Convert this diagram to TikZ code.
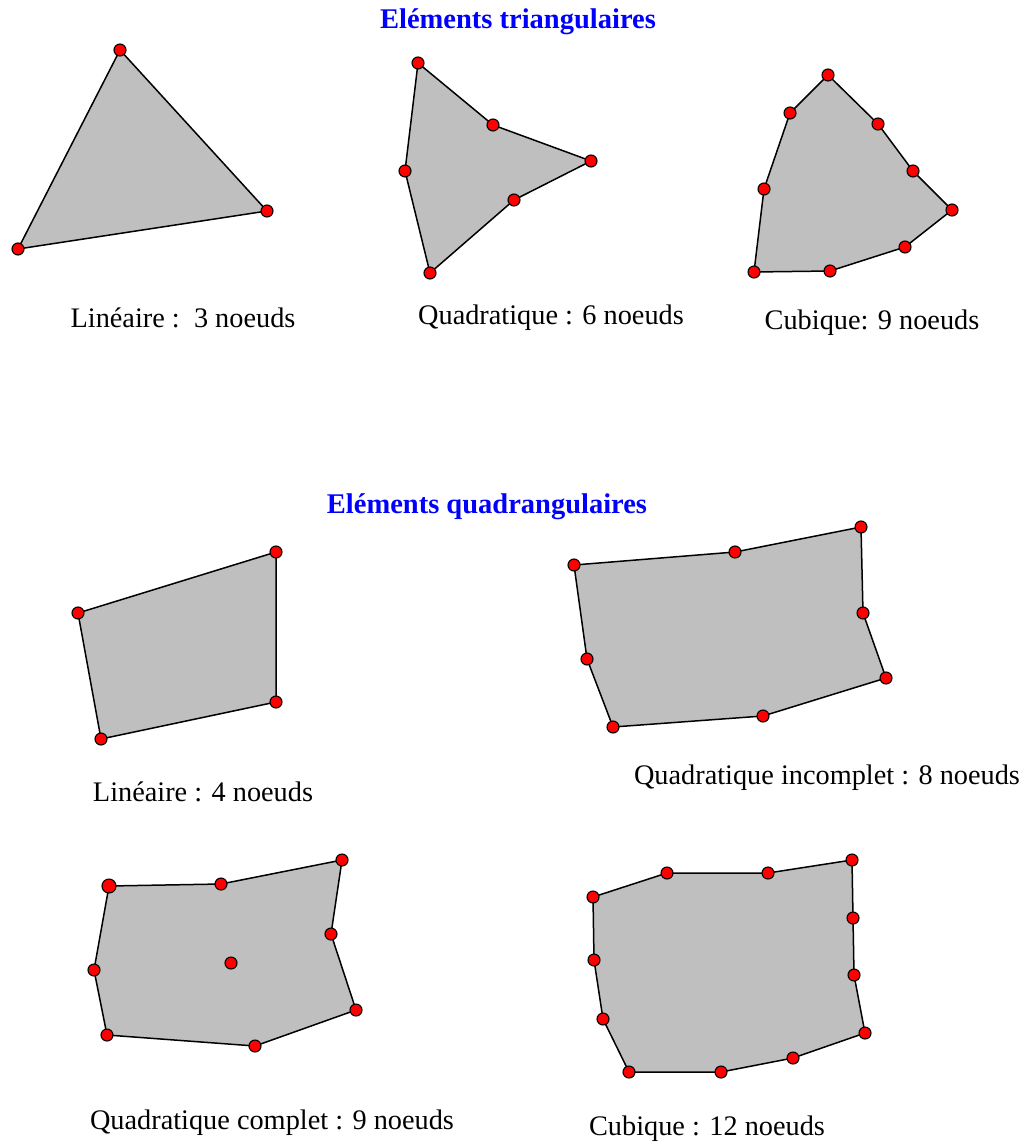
\documentclass[tikz,border=0pt]{standalone}
\usepackage{fontspec}
\setmainfont{Liberation Serif}
\usetikzlibrary{positioning}
\tikzset{
  elemfill/.style={draw,fill=black!25,line width=1.5pt,line join=round},
  ptnode/.style={circle,draw,fill=red,line width=1.1pt,minimum size=12pt,inner sep=0pt},
  titletext/.style={font=\fontsize{28.5}{32}\selectfont\bfseries,text=blue},
  captext/.style={font=\fontsize{28.3}{32}\selectfont},
  every picture/.style={line cap=round,line join=round}
}
\begin{document}
\begin{tikzpicture}[x=1pt,y=-1pt]
  \useasboundingbox (0,0) rectangle (1023,1142);
  % titres
  \node[titletext] (ttri) at (518,22) {Eléments triangulaires};
  \node[titletext] (tquad) at (487,507) {Eléments quadrangulaires};

  % triangle lineaire
  \coordinate (a1) at (120,50);
  \coordinate (a2) at (267,211);
  \coordinate (a3) at (18,249);
  \filldraw[elemfill] (a1) -- (a2) -- (a3) -- cycle;
  \node[captext] (la) at (183,318) {Linéaire :\ \ 3 noeuds};

  % triangle quadratique
  \coordinate (b1) at (418,63);
  \coordinate (b2) at (493,125);
  \coordinate (b3) at (591,161);
  \coordinate (b4) at (514,200);
  \coordinate (b5) at (430,273);
  \coordinate (b6) at (405,171);
  \filldraw[elemfill] (b1) -- (b2) -- (b3) -- (b4) -- (b5) -- (b6) -- cycle;
  \node[captext] (lb) at (551,318) {Quadratique : 6 noeuds};

  % triangle cubique
  \coordinate (c1) at (828,75);
  \coordinate (c2) at (878,124);
  \coordinate (c3) at (913,171);
  \coordinate (c4) at (952,210);
  \coordinate (c5) at (905,247);
  \coordinate (c6) at (830,271);
  \coordinate (c7) at (754,272);
  \coordinate (c8) at (764,189);
  \coordinate (c9) at (790,113);
  \filldraw[elemfill] (c1) -- (c2) -- (c3) -- (c4) -- (c5) -- (c6) -- (c7) -- (c8) -- (c9) -- cycle;
  \node[captext] (lc) at (872,323) {Cubique: 9 noeuds};

  % quadrangle lineaire
  \coordinate (d1) at (78,613);
  \coordinate (d2) at (276,552);
  \coordinate (d3) at (276,702);
  \coordinate (d4) at (101,739);
  \filldraw[elemfill] (d1) -- (d2) -- (d3) -- (d4) -- cycle;
  \node[captext] (ld) at (203,792) {Linéaire : 4 noeuds};

  % quadrangle quadratique incomplet
  \coordinate (e1) at (574,565);
  \coordinate (e2) at (735,552);
  \coordinate (e3) at (861,527);
  \coordinate (e4) at (863,613);
  \coordinate (e5) at (886,678);
  \coordinate (e6) at (763,716);
  \coordinate (e7) at (613,727);
  \coordinate (e8) at (587,659);
  \filldraw[elemfill] (e1) -- (e2) -- (e3) -- (e4) -- (e5) -- (e6) -- (e7) -- (e8) -- cycle;
  \node[captext] (le) at (827,778) {Quadratique incomplet : 8 noeuds};

  % quadrangle quadratique complet
  \coordinate (f1) at (109,886);
  \coordinate (f2) at (221,884);
  \coordinate (f3) at (342,860);
  \coordinate (f4) at (331,934);
  \coordinate (f5) at (356,1010);
  \coordinate (f6) at (255,1046);
  \coordinate (f7) at (107,1035);
  \coordinate (f8) at (94,970);
  \coordinate (f9) at (231,963);
  \filldraw[elemfill] (f1) -- (f2) -- (f3) -- (f4) -- (f5) -- (f6) -- (f7) -- (f8) -- cycle;
  \node[captext] (lf) at (272,1123) {Quadratique complet : 9 noeuds};

  % quadrangle cubique
  \coordinate (g1) at (593,897);
  \coordinate (g2) at (667,873);
  \coordinate (g3) at (768,873);
  \coordinate (g4) at (852,860);
  \coordinate (g5) at (853,918);
  \coordinate (g6) at (854,975);
  \coordinate (g7) at (865,1033);
  \coordinate (g8) at (793,1058);
  \coordinate (g9) at (721,1072);
  \coordinate (g10) at (629,1072);
  \coordinate (g11) at (603,1019);
  \coordinate (g12) at (594,960);
  \filldraw[elemfill] (g1) -- (g2) -- (g3) -- (g4) -- (g5) -- (g6) -- (g7) -- (g8) -- (g9) -- (g10) -- (g11) -- (g12) -- cycle;
  \node[captext] (lg) at (707,1129) {Cubique : 12 noeuds};

  % noeuds
  \foreach \p in {a1,a2,a3,b1,b2,b3,b4,b5,b6,c1,c2,c3,c4,c5,c6,c7,c8,c9,
                  d1,d2,d3,d4,e1,e2,e3,e4,e5,e6,e7,e8,
                  f2,f3,f4,f5,f6,f7,f8,f9,
                  g1,g2,g3,g4,g5,g6,g7,g8,g9,g10,g11,g12}
    \node[ptnode] (\p-pt) at (\p) {};
  \node[ptnode,minimum size=14pt] (f1-pt) at (f1) {};
\end{tikzpicture}
\end{document}
